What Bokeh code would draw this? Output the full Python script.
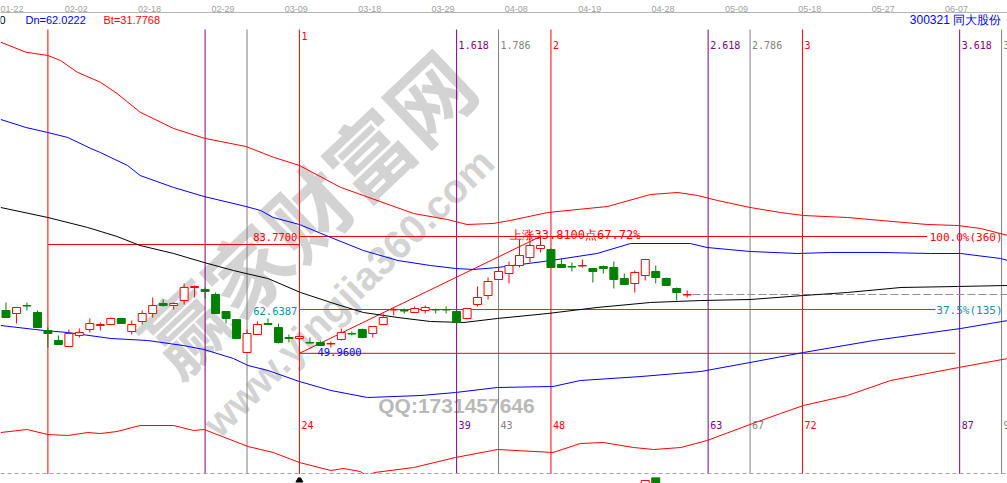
import math
import numpy as np
from bokeh.plotting import figure
from bokeh.layouts import column
from bokeh.models import Range1d, LinearAxis, FixedTicker, Span
from bokeh.core.properties import value
from bokeh.embed import file_html
from bokeh.resources import INLINE

# ---------------- daily candles, 300321 同大股份 ----------------
bars = list(range(-4, 62))
opens = [62.35, 61.48, 63.80, 61.77, 56.56, 53.67, 51.93, 55.12, 56.85, 58.01,
         58.30, 60.04, 56.27, 59.17, 61.48, 64.38, 63.80, 65.24, 69.01, 68.43,
         66.98, 62.06, 59.75, 50.20, 55.41, 58.59, 57.43, 54.54, 54.25, 53.09,
         53.09, 52.66, 53.96, 55.69, 56.85, 55.69, 58.30, 62.50, 62.35, 61.77,
         62.35, 62.64, 62.64, 62.06, 60.04, 64.09, 66.69, 71.32, 73.06, 75.37,
         77.69, 80.29, 80.00, 75.66, 75.08, 75.23, 74.50, 75.08, 74.79, 71.61,
         70.16, 72.48, 73.64, 71.61, 68.72, 66.84]
highs = [64.67, 63.22, 64.67, 62.35, 57.43, 55.12, 56.85, 57.14, 60.04, 58.88,
         60.32, 60.04, 59.46, 62.35, 66.11, 65.53, 64.67, 70.16, 69.59, 69.01,
         67.56, 62.06, 59.75, 56.85, 59.17, 60.04, 58.59, 55.41, 55.12, 54.54,
         53.67, 53.38, 57.14, 56.27, 57.14, 57.72, 61.48, 63.22, 62.93, 63.51,
         63.80, 62.93, 63.51, 62.06, 62.93, 69.30, 71.90, 74.79, 76.53, 82.90,
         82.90, 83.77, 80.29, 77.40, 76.24, 77.11, 74.50, 75.37, 76.53, 73.06,
         73.93, 77.11, 75.37, 71.90, 69.01, 68.14]
lows = [60.32, 58.59, 62.35, 57.43, 51.64, 52.51, 51.93, 54.54, 55.98, 56.56,
        58.30, 58.59, 55.41, 58.30, 60.32, 63.51, 62.64, 64.09, 66.11, 65.82,
        61.48, 58.59, 54.25, 50.20, 55.41, 58.30, 52.80, 53.09, 49.96, 52.80,
        52.22, 51.64, 53.67, 55.12, 54.54, 54.54, 58.30, 60.90, 61.48, 61.77,
        61.48, 61.48, 61.48, 58.59, 59.75, 63.51, 65.53, 71.32, 70.16, 74.79,
        76.24, 79.14, 74.79, 74.79, 73.64, 74.79, 70.45, 73.06, 68.72, 69.88,
        67.56, 71.03, 70.16, 69.59, 65.24, 66.11]
closes = [60.32, 63.22, 63.65, 57.43, 55.69, 52.51, 55.69, 55.98, 58.59, 58.30,
          60.04, 58.59, 58.30, 61.48, 63.80, 63.80, 64.38, 69.01, 69.30, 67.85,
          61.48, 60.04, 54.25, 55.69, 58.30, 58.30, 53.09, 54.25, 54.83, 52.95,
          52.22, 52.80, 55.98, 55.55, 54.54, 57.72, 60.32, 62.64, 62.21, 62.93,
          63.22, 62.50, 62.50, 58.88, 62.93, 66.11, 70.74, 73.64, 75.37, 78.27,
          81.16, 81.16, 74.79, 74.79, 74.94, 75.37, 73.64, 74.50, 71.32, 69.88,
          73.35, 77.11, 71.90, 69.59, 67.56, 66.98]

# volume tops that reach into the strip under the price panel
vol_bars = [57, 58]
vol_vals = [6.0, 9.6]

# ---------------- channel lines (bar index, price) ----------------
outer_up_x = [-4.5, -2.1, 0.0, 1.2, 2.8, 5.0, 6.6, 8.8, 12.0, 14.9, 18.9, 21.5, 24.0,
              27.9, 30.1, 34.9, 38.1, 40.0, 42.5, 44.1, 47.7, 53.4, 57.5, 60.1, 62.0,
              63.9, 67.0, 69.9, 72.1, 76.3, 79.5, 83.9, 86.8, 89.0, 91.6]
outer_up = [140.00, 137.10, 136.15, 134.70, 131.32, 128.42, 125.15, 119.74, 115.02,
            112.21, 109.81, 106.72, 104.32, 98.03, 95.63, 90.42, 88.69, 87.24, 87.53,
            88.40, 90.71, 92.45, 95.92, 96.50, 95.63, 94.18, 92.16, 90.71, 89.84,
            89.26, 88.40, 87.24, 86.95, 86.08, 84.06]

inner_up_x = [-4.5, -2.1, 0.0, 1.9, 4.1, 5.0, 7.6, 8.8, 12.0, 14.9, 18.9, 20.3, 21.5,
              24.0, 27.0, 30.1, 33.4, 36.5, 38.9, 40.6, 42.9, 48.0, 52.4, 55.6, 58.5,
              61.3, 62.9, 67.0, 71.5, 74.7, 79.5, 84.2, 87.1, 90.9, 91.6]
inner_up = [117.63, 115.31, 113.86, 112.42, 109.23, 108.08, 104.31, 101.42, 97.95,
            95.34, 92.45, 91.29, 89.26, 87.24, 83.48, 79.71, 76.82, 75.37, 74.51,
            74.22, 74.79, 76.82, 78.85, 81.74, 81.74, 81.74, 80.58, 79.43, 78.85,
            79.14, 79.14, 78.85, 78.85, 77.40, 76.82]

mid_x = [-4.5, 0.0, 3.8, 6.6, 8.8, 12.0, 14.9, 17.7, 18.9, 21.0, 24.1, 27.3, 30.1,
         33.4, 36.5, 39.7, 42.9, 47.7, 52.4, 57.5, 62.3, 67.0, 72.1, 76.3, 81.4,
         86.8, 91.6]
mid = [92.16, 89.26, 86.37, 83.77, 81.16, 78.85, 76.24, 73.93, 73.06, 71.61, 67.56,
       64.38, 61.77, 60.32, 59.17, 58.88, 60.04, 61.48, 63.22, 64.67, 65.24, 65.53,
       66.69, 67.56, 69.01, 69.30, 69.59]

inner_dn_x = [-4.5, -0.4, 1.9, 6.0, 9.5, 12.9, 14.9, 17.7, 19.1, 21.0, 24.0, 27.0,
              30.5, 35.6, 38.9, 42.9, 48.2, 50.8, 56.6, 62.3, 67.0, 72.1, 78.8, 87.1,
              91.6]
inner_dn = [58.01, 56.56, 55.98, 54.25, 53.67, 52.22, 51.06, 48.46, 46.43, 44.99,
            41.80, 39.20, 37.17, 37.75, 38.62, 40.07, 40.36, 42.09, 43.25, 44.70,
            47.30, 50.20, 53.67, 57.14, 59.46]

outer_dn_x = [-4.5, -2.0, 0.0, 1.9, 3.8, 5.0, 6.6, 8.8, 12.0, 13.9, 14.9, 19.1, 21.5,
              24.0, 27.0, 28.2, 29.8, 30.4, 31.2, 34.9, 38.9, 42.9, 48.2, 50.8, 53.0,
              55.9, 57.8, 60.4, 62.9, 67.0, 69.9, 72.1, 76.3, 80.4, 86.9, 91.6]
outer_dn = [27.04, 27.91, 26.46, 26.18, 27.04, 26.75, 27.33, 29.07, 29.07, 27.62,
            27.91, 22.99, 21.26, 18.36, 16.05, 16.63, 15.76, 14.60, 15.47, 16.91,
            19.81, 22.12, 21.26, 23.86, 24.15, 22.70, 22.12, 22.70, 24.73, 29.36,
            32.54, 34.86, 37.75, 42.09, 45.85, 48.46]

# ---------------- time cycles and swing ----------------
cycle_bars = [0, 15, 19, 24, 39, 43, 48, 63, 67, 72, 87, 91]
cycle_ratio = ["", "", "", "1", "1.618", "1.786", "2", "2.618", "2.786", "3", "3.618", "3.786"]
cycle_count = ["", "", "", "24", "39", "43", "48", "63", "67", "72", "87", "91"]
cycle_color = ["#FF0000", "#800080", "#808080"] * 4

swing_low_bar, swing_low = 24, 49.96
swing_high_bar, swing_high = 47, 83.77
retrace_ratio = 0.375
retrace = swing_low + retrace_ratio * (swing_high - swing_low)
box_top = 81.45          # level carried from the first cycle start
last_close = closes[-1]

date_bars = [-4, 3, 10, 17, 24, 31, 38, 45, 52, 59, 66, 73, 80, 87]
date_labels = ["01-22", "02-02", "02-18", "02-29", "03-09", "03-18", "03-29",
               "04-08", "04-19", "04-28", "05-09", "05-18", "05-27", "06-07"]

# ---------------- layout ----------------
W, H_MAIN, H_VOL = 1007, 474, 9
X_START, X_END = -4.523, 91.565
Y_START, Y_END = 14.89, 148.59
FRAME_TOP, FRAME_H = 12, H_MAIN - 12

RED, GREEN, BLUE, BLACK = "#FF0000", "#008000", "#0000FF", "#000000"
TEAL, TEAL_TEXT = "#008080", "#10909c"
MONO = value("DejaVu Sans Mono")
SANS = value("Liberation Sans")


def at_px(px, py):
    """Screen position inside the price panel -> data coordinates."""
    return (X_START + px * (X_END - X_START) / W,
            Y_END - (py - FRAME_TOP) * (Y_END - Y_START) / FRAME_H)


def price_text(v):
    # the terminal truncates prices to four decimals
    return f"{math.floor(v * 10000 + 1e-6) / 10000:.4f}"


p = figure(width=W, height=H_MAIN, x_range=Range1d(X_START, X_END),
           y_range=Range1d(Y_START, Y_END), output_backend="svg",
           toolbar_location=None, x_axis_location=None, y_axis_location=None,
           min_border_left=0, min_border_right=0, min_border_bottom=0,
           min_border_top=FRAME_TOP)
p.grid.visible = False
p.outline_line_color = None

date_ticks = [b - 0.3 for b in date_bars]
date_axis = LinearAxis(ticker=FixedTicker(ticks=date_ticks),
                       major_label_overrides={t: s for t, s in zip(date_ticks, date_labels)})
date_axis.major_tick_out = 0
date_axis.major_tick_in = 0
date_axis.minor_tick_out = 0
date_axis.minor_tick_in = 0
date_axis.axis_line_color = "#b4b4b4"
date_axis.major_label_text_font = "Liberation Sans"
date_axis.major_label_text_font_size = "9px"
date_axis.major_label_text_color = "#a0a0a0"
date_axis.major_label_text_align = "left"
date_axis.major_label_standoff = 1
p.add_layout(date_axis, "above")

# watermark
wx, wy = at_px(305, 210)
p.text(x=[wx], y=[wy], text=["赢家财富网"], angle=0.76,
       text_font=value("Noto Sans CJK SC"), text_font_size="84px",
       text_font_style="bold", text_color="#c0c0c0", text_alpha=0.7,
       text_align="center", text_baseline="middle")
wx, wy = at_px(348, 292)
p.text(x=[wx], y=[wy], text=["www.yingjia360.com"], angle=0.78,
       text_font=value("Liberation Sans"), text_font_size="40px",
       text_font_style="bold", text_color="#c0c0c0", text_alpha=0.7,
       text_align="center", text_baseline="middle")
wx, wy = at_px(456, 405)
p.text(x=[wx], y=[wy], text=["QQ:1731457646"],
       text_font=value("Liberation Sans"), text_font_size="21px",
       text_font_style="bold", text_color="#b0b0b0", text_alpha=0.9,
       text_align="center", text_baseline="middle")

# cycle verticals
_, line_top = at_px(0, 29)
p.segment(x0=cycle_bars, y0=[Y_START] * len(cycle_bars), x1=cycle_bars,
          y1=[line_top] * len(cycle_bars), line_color=cycle_color, line_width=1)

# bottom border of the price panel
_, border_y = at_px(0, 473)
p.add_layout(Span(location=border_y, dimension="width", line_color="#a0a0a0",
                  line_dash="4 3", line_width=1))

# levels
p.segment(x0=[0], y0=[box_top], x1=[swing_low_bar], y1=[box_top], line_color=RED)
p.segment(x0=[swing_low_bar], y0=[swing_high], x1=[83.9], y1=[swing_high], line_color=RED)
p.segment(x0=[swing_low_bar], y0=[retrace], x1=[84.7], y1=[retrace], line_color=TEAL)
p.segment(x0=[swing_low_bar], y0=[swing_low], x1=[86.6], y1=[swing_low], line_color=RED)
p.segment(x0=[swing_low_bar], y0=[swing_low], x1=[swing_high_bar], y1=[swing_high],
          line_color=RED)
p.segment(x0=[bars[-1] + 0.5], y0=[last_close], x1=[X_END], y1=[last_close],
          line_color="#909090", line_dash="8 3")

# channel
p.line(outer_up_x, outer_up, line_color=RED, line_width=1)
p.line(inner_up_x, inner_up, line_color=BLUE, line_width=1)
p.line(mid_x, mid, line_color=BLACK, line_width=1)
p.line(inner_dn_x, inner_dn, line_color=BLUE, line_width=1)
p.line(outer_dn_x, outer_dn, line_color=RED, line_width=1)

# candles
o = np.array(opens); c = np.array(closes)
up = c >= o
col = np.where(up, RED, GREEN).tolist()
p.segment(x0=bars, y0=lows, x1=bars, y1=highs, line_color=col, line_width=1)
p.vbar(x=bars, width=0.76, top=np.maximum(o, c), bottom=np.minimum(o, c),
       fill_color=np.where(up, "white", GREEN).tolist(), line_color=col, line_width=1)

# level labels
p.text(x=[swing_low_bar], y=[swing_high], text=[price_text(swing_high)], x_offset=-2,
       y_offset=1, text_align="right", text_baseline="middle", text_color=RED,
       text_font=MONO, text_font_size="10.5px")
p.text(x=[swing_low_bar], y=[retrace], text=[price_text(retrace)], x_offset=-2,
       y_offset=1, text_align="right", text_baseline="middle", text_color=TEAL_TEXT,
       text_font=MONO, text_font_size="10.5px")
p.text(x=[swing_low_bar], y=[swing_low], text=[price_text(swing_low)], x_offset=18,
       y_offset=-1, text_align="left", text_baseline="alphabetic", text_color=BLUE,
       text_font=MONO, text_font_size="10.5px")
p.text(x=[swing_high_bar - 2.86], y=[swing_high],
       text=[f"上涨{price_text(swing_high - swing_low)}点67.72%"], y_offset=-1,
       text_align="left", text_baseline="alphabetic", text_color=RED,
       text_font=MONO, text_font_size="12px")
rx, _ = at_px(1002, 0)
p.text(x=[rx], y=[swing_high], text=["100.0%(360)"], y_offset=1, text_align="right",
       text_baseline="middle", text_color=RED, text_font=MONO, text_font_size="11px")
p.text(x=[rx], y=[retrace], text=[f"{retrace_ratio * 100:.1f}%(135)"], y_offset=1,
       text_align="right", text_baseline="middle", text_color=TEAL_TEXT,
       text_font=MONO, text_font_size="11px")

# cycle labels
_, top_row = at_px(0, 44.5)
_, first_row = at_px(0, 35)
_, bottom_row = at_px(0, 424)
for b, r, n, clr in zip(cycle_bars, cycle_ratio, cycle_count, cycle_color):
    if r:
        p.text(x=[b], y=[first_row if r == "1" else top_row], text=[r], x_offset=2,
               text_align="left", text_baseline="middle", text_color=clr,
               text_font=MONO, text_font_size="10px")
    if n:
        p.text(x=[b], y=[bottom_row], text=[n], x_offset=2, text_align="left",
               text_baseline="middle", text_color=clr, text_font=MONO,
               text_font_size="10px")

# header line
_, head_y = at_px(0, 19.5)
for px, txt, clr in [(-1, "0", BLACK), (25, "Dn=62.0222", BLUE), (103, "Bt=31.7768", RED)]:
    hx, _ = at_px(px, 0)
    p.text(x=[hx], y=[head_y], text=[txt], text_align="left", text_baseline="middle",
           text_color=clr, text_font=SANS, text_font_size="11px")
hx, _ = at_px(1004, 0)
p.text(x=[hx], y=[head_y], text=["300321  同大股份"], text_align="right",
       text_baseline="middle", text_color=BLUE, text_font=SANS, text_font_size="12px")

# ---------------- volume strip ----------------
v = figure(width=W, height=H_VOL, x_range=p.x_range, y_range=Range1d(0, 9),
           output_backend="svg", toolbar_location=None, x_axis_location=None,
           y_axis_location=None, min_border=0)
v.grid.visible = False
v.outline_line_color = None
v.vbar(x=vol_bars[:1], width=0.76, top=vol_vals[:1], bottom=0, fill_color="white",
       line_color=RED)
v.vbar(x=vol_bars[1:], width=0.76, top=vol_vals[1:], bottom=0, fill_color=GREEN,
       line_color=GREEN)
v.scatter(x=[swing_low_bar], y=[6.5], marker="triangle", size=7, color=BLACK)

layout = column(p, v, spacing=0)
open("out.html", "w").write(file_html(layout, INLINE))
